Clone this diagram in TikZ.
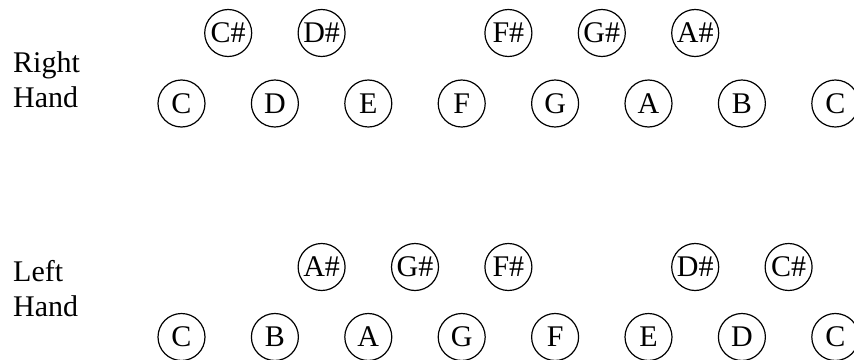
\documentclass[tikz,border=0pt]{standalone}
\usepackage{fontspec}
\setmainfont{Liberation Serif}
\begin{document}
\begin{tikzpicture}[x=1pt,y=-1pt,
  key/.style={circle,draw,line width=1.2pt,minimum size=47pt,inner sep=0pt,
    font=\fontsize{30}{36}\selectfont,text height=19.9pt,text depth=0pt},
  hand/.style={anchor=base west,inner sep=0pt,font=\fontsize{30}{36}\selectfont}]
\useasboundingbox (0,0) rectangle (854,359);
% labels
\node[hand] (rh1) at (13,72) {Right};
\node[hand] (rh2) at (13,107) {Hand};
\node[hand] (lh1) at (13,281.5) {Left};
\node[hand] (lh2) at (13,316.5) {Hand};
% right hand naturals
\foreach \n [count=\i from 0] in {C,D,E,F,G,A,B,C}
  \node[key] (rn\i) at (181.5+93.4*\i,103.5) {\n};
% right hand sharps
\node[key] (rs0) at (228.2,33) {C\#};
\node[key] (rs1) at (321.6,33) {D\#};
\node[key] (rs3) at (508.4,33) {F\#};
\node[key] (rs4) at (601.8,33) {G\#};
\node[key] (rs5) at (695.2,33) {A\#};
% left hand naturals
\foreach \n [count=\i from 0] in {C,B,A,G,F,E,D,C}
  \node[key] (ln\i) at (181.5+93.4*\i,337) {\n};
% left hand sharps
\node[key] (ls1) at (321.6,267) {A\#};
\node[key] (ls2) at (415,267) {G\#};
\node[key] (ls3) at (508.4,267) {F\#};
\node[key] (ls5) at (695.2,267) {D\#};
\node[key] (ls6) at (788.6,267) {C\#};
\end{tikzpicture}
\end{document}
